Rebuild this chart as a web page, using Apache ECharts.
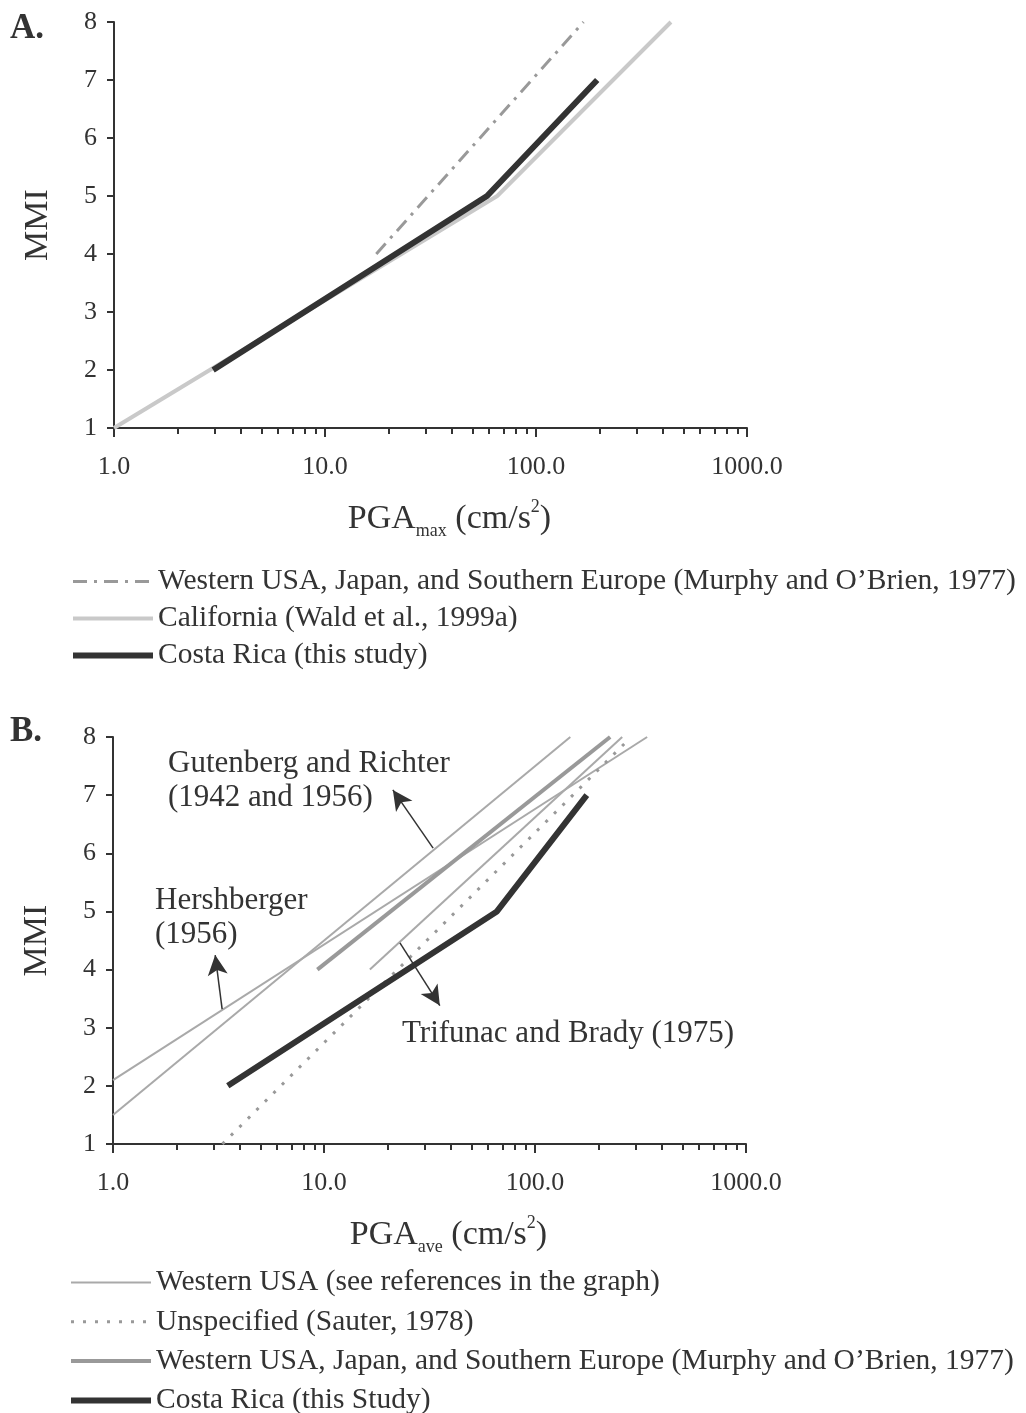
<!DOCTYPE html>
<html>
<head>
<meta charset="utf-8">
<script src="https://cdn.jsdelivr.net/npm/echarts@6/dist/echarts.min.js"></script>
<style>
html,body{margin:0;padding:0;background:#fff;}
#main{width:1026px;height:1413px;}
</style>
</head>
<body>
<div id="main"></div>
<script>
// ---------- data ----------
const xTickValues = [1, 10, 100, 1000];
const xMinorTickValues = [2,3,4,5,6,7,8,9,20,30,40,50,60,70,80,90,200,300,400,500,600,700,800,900];
const yTickValues = [1, 2, 3, 4, 5, 6, 7, 8];

// Panel A (PGA max)
const murphyA = [[17.5, 4], [168, 8]];
const waldA = [[1.0, 1], [65.5, 5], [436, 8]];
const costaA = [[2.95, 2], [58.6, 5], [195, 7]];

// Panel B (PGA ave)
const gutenbergB = [[1.0, 1.5], [147, 8]];
const hershbergerB = [[1.0, 2.1], [340, 8]];
const trifunacB = [[16.5, 4], [259, 8]];
const sauterB = [[3.3, 1], [268, 7.9]];
const murphyB = [[9.3, 4], [227, 8]];
const costaB = [[3.5, 2], [66, 5], [176, 7]];

// annotation arrows (tail, head) in data coordinates
const arrowGutenberg = [[32.9, 6.09], [21.2, 7.09]];
const arrowHershberger = [[3.29, 3.32], [3.05, 4.25]];
const arrowTrifunac = [[22.9, 4.46], [35.4, 3.38]];

const namesA = [
  'Western USA, Japan, and Southern Europe (Murphy and O\u2019Brien, 1977)',
  'California (Wald et al., 1999a)',
  'Costa Rica (this study)'
];
const namesB = [
  'Western USA (see references in the graph)',
  'Unspecified (Sauter, 1978)',
  'Western USA, Japan, and Southern Europe (Murphy and O\u2019Brien, 1977)\u200B',
  'Costa Rica (this Study)'
];

// ---------- style ----------
const FONT = '"Liberation Serif", "Times New Roman", serif';
const INK = '#333333';

function mainX(gridIndex) {
  return {
    type: 'log', logBase: 10, min: 1, max: 1000, gridIndex: gridIndex, position: 'bottom',
    axisLine: { show: true, lineStyle: { color: INK, width: 2 } },
    axisTick: { show: true, length: 9, lineStyle: { color: INK, width: 2 }, customValues: xTickValues },
    axisLabel: { show: true, margin: 26, fontSize: 26, fontFamily: FONT, color: INK,
      customValues: xTickValues, formatter: v => Number(v).toFixed(1) },
    splitLine: { show: false },
    nameLocation: 'middle', nameGap: 70
  };
}
function minorX(gridIndex) {
  return {
    type: 'log', logBase: 10, min: 1, max: 1000, gridIndex: gridIndex, position: 'bottom',
    axisLine: { show: false },
    axisTick: { show: true, length: 6, lineStyle: { color: INK, width: 2 }, customValues: xMinorTickValues },
    axisLabel: { show: false },
    splitLine: { show: false }
  };
}
function yAx(gridIndex) {
  return {
    type: 'value', min: 1, max: 8, interval: 1, gridIndex: gridIndex,
    axisLine: { show: true, lineStyle: { color: INK, width: 2 } },
    axisTick: { show: true, length: 7, lineStyle: { color: INK, width: 2 } },
    axisLabel: { margin: 17, fontSize: 26, fontFamily: FONT, color: INK },
    splitLine: { show: false },
    name: 'MMI', nameLocation: 'middle', nameRotate: 90, nameGap: 59,
    nameTextStyle: { fontSize: 34, fontFamily: FONT, color: INK }
  };
}
function axisNameRich(sub) {
  return {
    name: '{m|PGA}{s|' + sub + '}{m| (cm/s}{p|2}{m|)}',
    nameTextStyle: {
      padding: [0, 0, 0, 38],
      rich: {
        m: { fontSize: 34, fontFamily: FONT, color: INK, lineHeight: 42 },
        s: { fontSize: 18, fontFamily: FONT, color: INK, lineHeight: 18, verticalAlign: 'bottom' },
        p: { fontSize: 18, fontFamily: FONT, color: INK, lineHeight: 26, verticalAlign: 'top' }
      }
    }
  };
}

const xA = Object.assign(mainX(0), axisNameRich('max'));
const xB = Object.assign(mainX(1), axisNameRich('ave'));

const thinGray = { color: '#a9a9a9', width: 2 };

const arrowStyle = { color: INK, width: 1.5, type: 'solid' };
function arrowLine(pair) {
  return [{ coord: pair[0] }, { coord: pair[1] }];
}

const legendCommon = {
  orient: 'vertical', padding: 0, itemHeight: 14, itemWidth: 80, selectedMode: false,
  height: 220,
  itemStyle: { opacity: 0 },
  lineStyle: { width: 'inherit' },
  textStyle: { fontSize: 29.5, lineHeight: 31, fontFamily: FONT, color: INK }
};

const option = {
  backgroundColor: '#ffffff',
  animation: false,
  grid: [
    { left: 114, top: 22, width: 633, height: 406 },
    { left: 113, top: 737, width: 633, height: 407 }
  ],
  xAxis: [xA, minorX(0), xB, minorX(1)],
  yAxis: [yAx(0), yAx(1)],
  legend: [
    Object.assign({ data: namesA, left: 70, top: 566, itemGap: 6 }, legendCommon),
    Object.assign({ data: namesB, left: 68, top: 1267, itemGap: 8.3 }, legendCommon)
  ],
  series: [
    // ---- Panel A ----
    { name: namesA[1], type: 'line', xAxisIndex: 0, yAxisIndex: 0, data: waldA, symbol: 'none',
      lineStyle: { color: '#c9c9c9', width: 4 }, itemStyle: { color: '#c9c9c9' } },
    { name: namesA[0], type: 'line', xAxisIndex: 0, yAxisIndex: 0, data: murphyA, symbol: 'none',
      lineStyle: { color: '#999999', width: 3, type: [14, 7, 3, 7] }, itemStyle: { color: '#999999' } },
    { name: namesA[2], type: 'line', xAxisIndex: 0, yAxisIndex: 0, data: costaA, symbol: 'none',
      lineStyle: { color: INK, width: 6 }, itemStyle: { color: INK } },
    // ---- Panel B ----
    { name: namesB[0], type: 'line', xAxisIndex: 2, yAxisIndex: 1, data: gutenbergB, symbol: 'none',
      lineStyle: thinGray, itemStyle: { color: '#a9a9a9' },
      markLine: { silent: true, symbol: ['none', 'arrow'], symbolSize: [15, 20], label: { show: false },
        lineStyle: arrowStyle, data: [arrowLine(arrowGutenberg), arrowLine(arrowHershberger), arrowLine(arrowTrifunac)] } },
    { name: namesB[0], type: 'line', xAxisIndex: 2, yAxisIndex: 1, data: hershbergerB, symbol: 'none',
      lineStyle: thinGray, itemStyle: { color: '#a9a9a9' } },
    { name: namesB[0], type: 'line', xAxisIndex: 2, yAxisIndex: 1, data: trifunacB, symbol: 'none',
      lineStyle: thinGray, itemStyle: { color: '#a9a9a9' } },
    { name: namesB[1], type: 'line', xAxisIndex: 2, yAxisIndex: 1, data: sauterB, symbol: 'none',
      lineStyle: { color: '#999999', width: 3, type: [3, 9] }, itemStyle: { color: '#999999' } },
    { name: namesB[2], type: 'line', xAxisIndex: 2, yAxisIndex: 1, data: murphyB, symbol: 'none',
      lineStyle: { color: '#999999', width: 4 }, itemStyle: { color: '#999999' } },
    { name: namesB[3], type: 'line', xAxisIndex: 2, yAxisIndex: 1, data: costaB, symbol: 'none',
      lineStyle: { color: INK, width: 6 }, itemStyle: { color: INK } }
  ],
  graphic: [
    { type: 'text', left: 10, top: 11, style: { text: 'A.', font: 'bold 35px ' + FONT, fill: INK } },
    { type: 'text', left: 10, top: 714, style: { text: 'B.', font: 'bold 35px ' + FONT, fill: INK } },
    { type: 'text', left: 168, top: 747, style: { text: 'Gutenberg and Richter\n(1942 and 1956)', font: '31px ' + FONT, fill: INK, lineHeight: 34 } },
    { type: 'text', left: 155, top: 884, style: { text: 'Hershberger\n(1956)', font: '31px ' + FONT, fill: INK, lineHeight: 34 } },
    { type: 'text', left: 402, top: 1018, style: { text: 'Trifunac and Brady (1975)', font: '31px ' + FONT, fill: INK } }
  ]
};

const chart = echarts.init(document.getElementById('main'), null, { renderer: 'canvas' });
chart.setOption(option);
</script>
</body>
</html>
